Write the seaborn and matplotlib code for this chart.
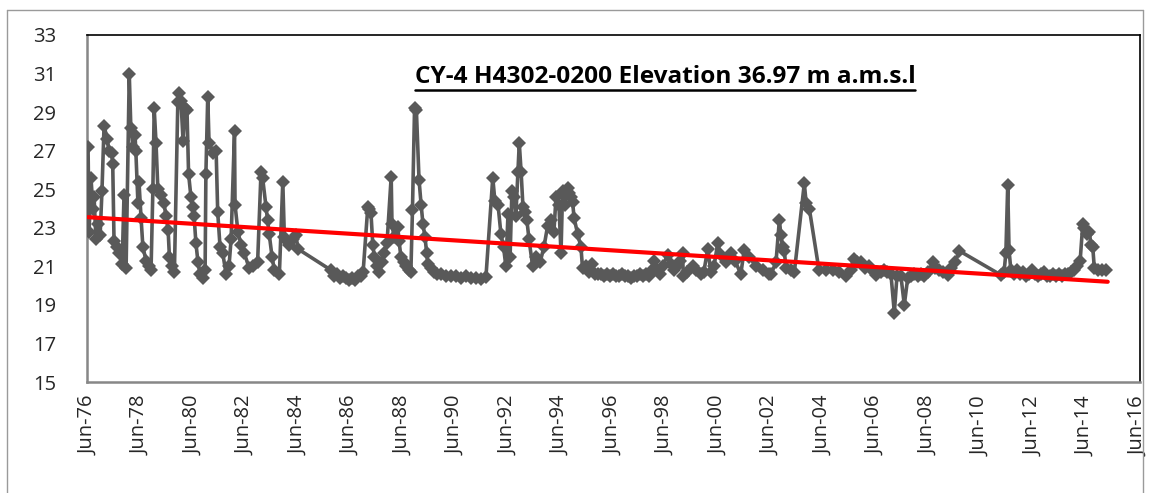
import numpy as np
import pandas as pd
import matplotlib
matplotlib.use("Agg")
import matplotlib.pyplot as plt
import seaborn as sns
from matplotlib.lines import Line2D

# ---- data (decimal year, water level m) ----
years = [
    1976.42, 1976.46, 1976.53, 1976.61, 1976.65, 1976.72, 1976.80, 1976.88, 1976.95, 1977.03,
    1977.15, 1977.22, 1977.32, 1977.36, 1977.41, 1977.52, 1977.60, 1977.72, 1977.79, 1977.87,
    1977.99, 1978.05, 1978.13, 1978.21, 1978.24, 1978.32, 1978.36, 1978.44, 1978.51, 1978.63,
    1978.74, 1978.82, 1978.89, 1978.94, 1979.01, 1979.08, 1979.20, 1979.31, 1979.39, 1979.47,
    1979.52, 1979.62, 1979.71, 1979.84, 1979.90, 1979.96, 1980.04, 1980.12, 1980.19, 1980.25,
    1980.34, 1980.40, 1980.46, 1980.53, 1980.61, 1980.69, 1980.80, 1980.88, 1980.91, 1980.98,
    1981.03, 1981.18, 1981.30, 1981.36, 1981.45, 1981.55, 1981.68, 1981.79, 1981.87, 1982.00,
    1982.02, 1982.13, 1982.25, 1982.37, 1982.56, 1982.70, 1982.88, 1983.01, 1983.07, 1983.20,
    1983.26, 1983.32, 1983.43, 1983.52, 1983.71, 1983.84, 1983.90, 1984.00, 1984.09, 1984.23,
    1984.34, 1984.42,
    1985.68, 1985.79, 1985.91, 1986.02, 1986.13, 1986.25, 1986.36, 1986.48, 1986.59, 1986.71,
    1986.82, 1986.90, 1987.08, 1987.13, 1987.20, 1987.27, 1987.33, 1987.43, 1987.52, 1987.62,
    1987.71, 1987.81, 1987.97, 1988.00, 1988.08, 1988.22, 1988.27, 1988.34, 1988.46, 1988.53,
    1988.65, 1988.72, 1988.78, 1988.86, 1988.93, 1989.03, 1989.11, 1989.18, 1989.26, 1989.32,
    1989.37, 1989.49, 1989.60, 1989.72, 1989.87, 1990.06, 1990.25, 1990.44, 1990.63, 1990.82,
    1991.01, 1991.20, 1991.39, 1991.58, 1991.84, 1991.92, 1992.04, 1992.15, 1992.25, 1992.34,
    1992.42, 1992.50, 1992.57, 1992.65, 1992.72, 1992.80, 1992.85, 1992.92, 1992.99, 1993.07,
    1993.14, 1993.22, 1993.36, 1993.49, 1993.64, 1993.79, 1993.93, 1994.06, 1994.17, 1994.25,
    1994.36, 1994.44, 1994.50, 1994.59, 1994.69, 1994.74, 1994.82, 1994.88, 1994.94, 1995.07,
    1995.20, 1995.26, 1995.38, 1995.50, 1995.61, 1995.73, 1995.84, 1995.96, 1996.07, 1996.19,
    1996.30, 1996.42, 1996.53, 1996.65, 1996.76, 1996.88, 1996.99, 1997.11, 1997.22, 1997.33,
    1997.45, 1997.56, 1997.68, 1997.79, 1997.91, 1997.99, 1998.10, 1998.21, 1998.32, 1998.50,
    1998.63, 1998.74, 1998.86, 1998.97, 1999.07, 1999.10, 1999.24, 1999.45, 1999.58, 1999.77,
    1999.88, 2000.03, 2000.15, 2000.27, 2000.41, 2000.53, 2000.72, 2000.91, 2001.07, 2001.29,
    2001.42, 2001.60, 2001.87, 2002.13, 2002.36, 2002.44, 2002.63, 2002.76, 2002.82, 2002.88,
    2002.95, 2003.01, 2003.20, 2003.33, 2003.71, 2003.78, 2003.90, 2004.27, 2004.54, 2004.79,
    2005.03, 2005.30, 2005.49, 2005.61, 2005.72, 2005.87, 2006.02, 2006.17, 2006.29, 2006.44,
    2006.63, 2006.76, 2006.86, 2007.01, 2007.14, 2007.24, 2007.39, 2007.52, 2007.65, 2007.77,
    2007.89, 2008.03, 2008.16, 2008.28, 2008.42, 2008.60, 2008.69, 2008.84, 2008.99, 2009.17,
    2009.30, 2009.45, 2009.62,
    2011.20, 2011.32, 2011.39, 2011.46, 2011.51, 2011.58, 2011.70, 2011.81, 2011.93, 2012.04,
    2012.15, 2012.27, 2012.38, 2012.50, 2012.61, 2012.73, 2012.84, 2012.96, 2013.07, 2013.19,
    2013.30, 2013.41, 2013.53, 2013.64, 2013.76, 2013.87, 2013.99, 2014.10, 2014.22, 2014.32,
    2014.37, 2014.48, 2014.57, 2014.63, 2014.70, 2014.76, 2014.90, 2015.05, 2015.20,
]
levels = [
    27.2, 22.8, 25.6, 24.0, 24.6, 22.4, 23.2, 22.6, 24.9, 28.3,
    27.6, 27.0, 26.9, 26.3, 22.3, 22.0, 21.7, 21.1, 24.7, 20.9,
    31.0, 28.2, 27.2, 27.8, 27.0, 24.3, 25.4, 23.5, 22.0, 21.3,
    21.0, 20.8, 25.0, 29.2, 27.4, 25.0, 24.7, 24.3, 23.6, 22.9,
    21.5, 21.0, 20.7, 29.5, 30.0, 29.6, 27.5, 29.2, 29.1, 25.8,
    24.6, 24.1, 23.6, 22.2, 21.2, 20.6, 20.4, 20.8, 25.8, 29.8,
    27.4, 26.9, 27.0, 23.8, 22.0, 21.7, 20.6, 21.0, 22.4, 28.0,
    24.2, 22.8, 22.1, 21.7, 20.9, 21.0, 21.2, 25.9, 25.6, 24.1,
    23.4, 22.7, 21.5, 20.8, 20.6, 25.4, 22.5, 22.3, 22.1, 22.4,
    22.6, 21.9,
    20.8, 20.5, 20.6, 20.4, 20.5, 20.4, 20.3, 20.4, 20.3, 20.5,
    20.5, 20.7, 24.1, 24.0, 23.75, 22.1, 21.5, 21.0, 20.7, 21.2,
    21.7, 22.2, 25.65, 23.2, 22.5, 23.06, 22.3, 21.5, 21.2, 21.0,
    20.8, 20.7, 23.9, 29.2, 29.1, 25.5, 24.2, 23.2, 22.5, 21.7,
    21.1, 20.9, 20.7, 20.6, 20.6, 20.5, 20.5, 20.5, 20.4, 20.5,
    20.4, 20.4, 20.35, 20.45, 25.6, 24.4, 24.2, 22.7, 22.0, 21.0,
    23.7, 21.5, 24.9, 24.6, 23.6, 25.9, 27.4, 25.9, 24.1, 23.8,
    23.4, 22.4, 21.0, 21.5, 21.2, 22.0, 23.1, 23.4, 22.8, 24.6,
    24.2, 21.7, 24.9, 24.2, 25.05, 24.8, 24.6, 24.35, 23.5, 22.7,
    22.0, 20.9, 21.0, 20.7, 21.1, 20.6, 20.6, 20.6, 20.5, 20.6,
    20.5, 20.6, 20.5, 20.5, 20.6, 20.5, 20.5, 20.4, 20.5, 20.5,
    20.6, 20.5, 20.6, 20.5, 20.8, 21.3, 20.8, 20.6, 21.0, 21.6,
    21.1, 20.8, 21.0, 21.3, 21.7, 20.5, 20.7, 21.0, 20.8, 20.6,
    20.7, 21.9, 20.7, 21.0, 22.2, 21.6, 21.2, 21.7, 21.3, 20.6,
    21.85, 21.5, 21.0, 20.8, 20.6, 20.6, 21.2, 23.4, 22.6, 22.0,
    21.8, 20.9, 20.8, 20.7, 25.3, 24.3, 24.0, 20.8, 20.8, 20.8,
    20.7, 20.5, 20.8, 21.4, 21.2, 21.2, 20.9, 21.0, 20.8, 20.55,
    20.7, 20.8, 20.7, 20.6, 18.6, 20.5, 20.5, 19.0, 20.4, 20.5,
    20.6, 20.5, 20.6, 20.5, 20.7, 21.2, 20.9, 20.8, 20.7, 20.55,
    20.9, 21.2, 21.8,
    20.55, 20.7, 21.7, 25.2, 21.85, 20.8, 20.6, 20.8, 20.6, 20.7,
    20.5, 20.6, 20.8, 20.6, 20.5, 20.6, 20.7, 20.5, 20.5, 20.6,
    20.5, 20.6, 20.5, 20.6, 20.6, 20.7, 20.8, 21.0, 21.3, 23.2,
    23.0, 22.7, 22.8, 22.1, 22.0, 20.9, 20.8, 20.8, 20.8,
]
trend_years = [1976.42, 2015.27]
trend_levels = [23.55, 20.2]

tick_years = [1976.42 + 2 * k for k in range(21)]
tick_labels = ["Jun-%02d" % ((1976 + 2 * k) % 100) for k in range(21)]
y_ticks = list(range(15, 34, 2))
title_text = "CY-4 H4302-0200 Elevation 36.97 m a.m.s.l"

# ---- style ----
sns.set_style("white")
plt.rcParams['font.family'] = ['Open Sans', 'DejaVu Sans']

W, H = 1150, 493
fig = plt.figure(figsize=(W / 100, H / 100), dpi=100)
ax = fig.add_axes([87 / W, 1 - 382 / H, (1140 - 87) / W, (382 - 35) / H])

df = pd.DataFrame({"year": years, "level": levels})
sns.lineplot(data=df, x="year", y="level", ax=ax, sort=False, estimator=None,
             color="#595959", linewidth=2.6, marker="D", markersize=6.8,
             markeredgewidth=0, markerfacecolor="#595959", zorder=3)
tdf = pd.DataFrame({"year": trend_years, "level": trend_levels})
sns.lineplot(data=tdf, x="year", y="level", ax=ax, sort=False, estimator=None,
             color="#FF0000", linewidth=3.0, zorder=4)

ax.set_xlim(1976.38, 2016.5)
ax.set_ylim(15, 33)
ax.set_xticks(tick_years)
ax.set_xticklabels(tick_labels, rotation=90, fontsize=14.5)
ax.set_yticks(y_ticks)
ax.set_yticklabels([str(v) for v in y_ticks], fontsize=14.5)
ax.tick_params(axis="y", length=0, pad=22)
ax.tick_params(axis="x", length=0, pad=10)
ax.set_xlabel("")
ax.set_ylabel("")
ax.grid(False)

for side in ["top", "right"]:
    ax.spines[side].set_color("black")
    ax.spines[side].set_linewidth(1.2)
for side in ["left", "bottom"]:
    ax.spines[side].set_color("#878787")
    ax.spines[side].set_linewidth(1.8)

txt = ax.text(0.549, 0.862, title_text, transform=ax.transAxes, ha="center",
              va="baseline", fontsize=17.6, fontweight="bold", color="black")

# outer chart frame
frame_c = "#9a9a9a"
fig.add_artist(Line2D([7 / W, 7 / W], [0, 1 - 10 / H], color=frame_c, lw=1.0))
fig.add_artist(Line2D([7 / W, 1143 / W], [1 - 10 / H, 1 - 10 / H], color=frame_c, lw=1.0))
fig.add_artist(Line2D([1143 / W, 1143 / W], [0, 1 - 10 / H], color=frame_c, lw=1.0))

# underline of the title
fig.canvas.draw()
bb = txt.get_window_extent()
uy = (bb.y0 - 1) / H
fig.add_artist(Line2D([bb.x0 / W, bb.x1 / W], [uy, uy], color="black", lw=1.8))

fig.savefig("out.png", dpi=100)
